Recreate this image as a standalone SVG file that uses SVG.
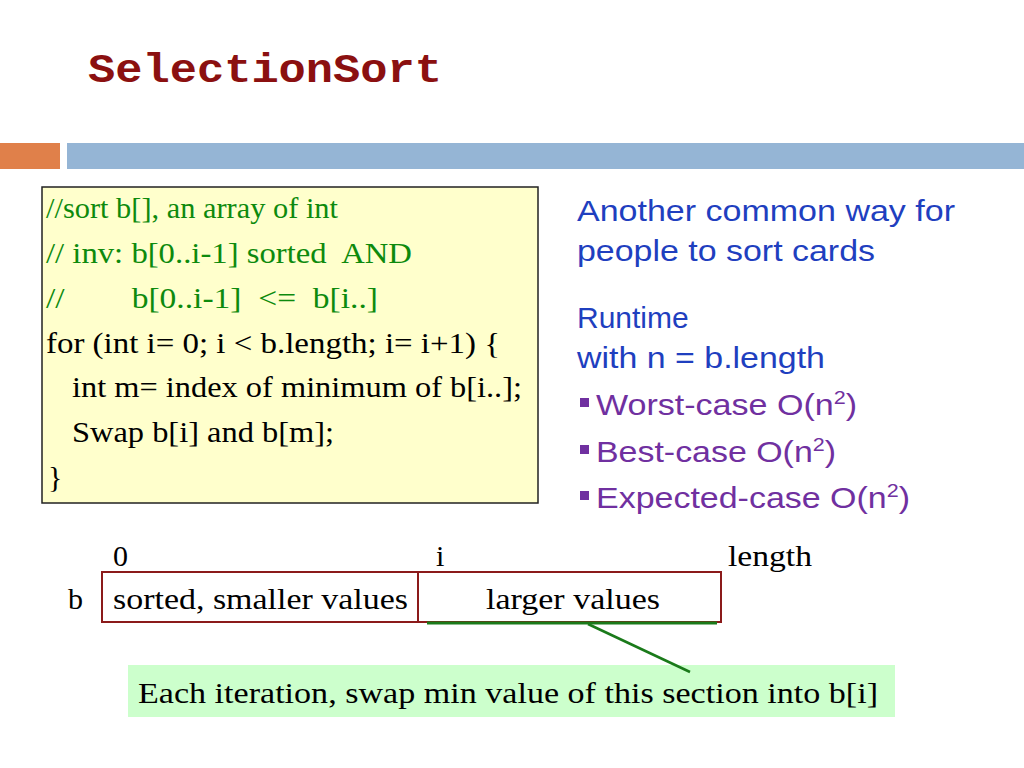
<svg xmlns="http://www.w3.org/2000/svg" width="1024" height="768" viewBox="0 0 1024 768">
<style>
.t{font-family:"Liberation Serif",serif;font-size:30px;fill:#000}
.g{fill:#0d8a0d}
.a{font-family:"Liberation Sans",sans-serif;font-size:30px;fill:#1f3fbf}
.p{font-family:"Liberation Sans",sans-serif;font-size:30px;fill:#7030a0}
.cell{fill:#fff;stroke:#8b1a1a;stroke-width:2}
</style>
<rect width="1024" height="768" fill="#fff"/>
<text x="88" y="82" font-family="Liberation Mono,monospace" font-weight="bold" font-size="40" fill="#8b1010" textLength="354" lengthAdjust="spacingAndGlyphs">SelectionSort</text>
<rect x="0" y="143" width="60" height="26" fill="#e0804a"/>
<rect x="67" y="143" width="957" height="26" fill="#95b5d5"/>
<g id="code">
<rect x="42" y="187" width="496" height="316" fill="#ffffcc" stroke="#222" stroke-width="1.5"/>
<text class="t g" x="46" y="218" textLength="292" lengthAdjust="spacingAndGlyphs">//sort b[], an array of int</text>
<text class="t g" x="46" y="263" textLength="366" lengthAdjust="spacingAndGlyphs" xml:space="preserve">// inv: b[0..i-1] sorted  AND</text>
<text class="t g" x="46" y="308" textLength="332" lengthAdjust="spacingAndGlyphs" xml:space="preserve">//        b[0..i-1]  &lt;=  b[i..]</text>
<text class="t" x="46" y="353" textLength="454" lengthAdjust="spacingAndGlyphs">for (int i= 0; i &lt; b.length; i= i+1) {</text>
<text class="t" x="72" y="397" textLength="450" lengthAdjust="spacingAndGlyphs">int m= index of minimum of b[i..];</text>
<text class="t" x="72" y="442" textLength="262" lengthAdjust="spacingAndGlyphs">Swap b[i] and b[m];</text>
<text class="t" x="48" y="487">}</text>
</g>
<g id="notes">
<text class="a" x="577" y="221" textLength="378" lengthAdjust="spacingAndGlyphs">Another common way for</text>
<text class="a" x="577" y="261" textLength="298" lengthAdjust="spacingAndGlyphs">people to sort cards</text>
<text class="a" x="577" y="328">Runtime</text>
<text class="a" x="577" y="368" textLength="248" lengthAdjust="spacingAndGlyphs">with n = b.length</text>
<rect x="580" y="398" width="9" height="9" fill="#7030a0"/>
<rect x="580" y="445" width="9" height="9" fill="#7030a0"/>
<rect x="580" y="491" width="9" height="9" fill="#7030a0"/>
<text class="p" x="596" y="415" textLength="261" lengthAdjust="spacingAndGlyphs">Worst-case O(n<tspan font-size="19" dy="-11">2</tspan><tspan dy="11">)</tspan></text>
<text class="p" x="596" y="462" textLength="240" lengthAdjust="spacingAndGlyphs">Best-case O(n<tspan font-size="19" dy="-11">2</tspan><tspan dy="11">)</tspan></text>
<text class="p" x="596" y="508" textLength="314" lengthAdjust="spacingAndGlyphs">Expected-case O(n<tspan font-size="19" dy="-11">2</tspan><tspan dy="11">)</tspan></text>
</g>
<g id="array">
<text class="t" x="113" y="566">0</text>
<text class="t" x="436" y="566">i</text>
<text class="t" x="728" y="566" textLength="84" lengthAdjust="spacingAndGlyphs">length</text>
<text class="t" x="68" y="609">b</text>
<rect class="cell" x="102" y="572" width="316" height="50"/>
<rect class="cell" x="418" y="572" width="303" height="50"/>
<text class="t" x="113" y="609" textLength="295" lengthAdjust="spacingAndGlyphs">sorted, smaller values</text>
<text class="t" x="486" y="609" textLength="174" lengthAdjust="spacingAndGlyphs">larger values</text>
</g>
<g id="callout">
<rect x="128" y="665" width="767" height="52" fill="#ccffcc"/>
<text class="t" x="138" y="703" textLength="740" lengthAdjust="spacingAndGlyphs">Each iteration, swap min value of this section into b[i]</text>
</g>
<g id="connectors">
<line x1="427" y1="623" x2="717" y2="623" stroke="#1a7a1a" stroke-width="3"/>
<line x1="588" y1="624" x2="690" y2="672" stroke="#1a7a1a" stroke-width="2.5"/>
</g>
</svg>
